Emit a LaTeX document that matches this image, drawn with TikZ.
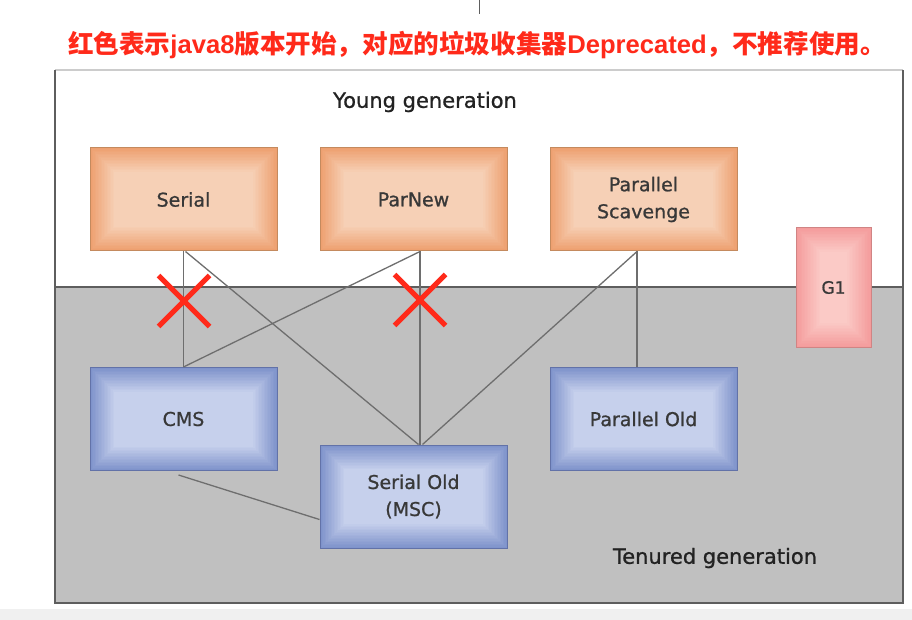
\documentclass[tikz,border=0pt]{standalone}
\usepackage{fontspec}
\setmainfont{DejaVu Sans}
\newfontfamily\lbl{DejaVu Sans}[FakeBold=0.9]
\newfontfamily\cjk{Noto Sans CJK SC}
\newfontfamily\arialfont{Liberation Sans}
\usetikzlibrary{shapes.misc}
\definecolor{oedge}{HTML}{EEA070}
\definecolor{ocen}{HTML}{F6D0B6}
\definecolor{oborder}{HTML}{C48A5E}
\definecolor{bedge}{HTML}{7F93CB}
\definecolor{bcen}{HTML}{C6D0EC}
\definecolor{bborder}{HTML}{6272A8}
\definecolor{pedge}{HTML}{F49C9C}
\definecolor{pcen}{HTML}{FBCAC6}
\definecolor{pborder}{HTML}{D08484}
\definecolor{tgray}{HTML}{C0C0C0}
\definecolor{framec}{HTML}{5E5E5E}
\definecolor{topc}{HTML}{CCCCCC}
\definecolor{linec}{HTML}{6E6E6E}
\definecolor{labelc}{HTML}{383838}
\definecolor{titlec}{HTML}{222222}
\definecolor{xred}{HTML}{FF2A1A}
\definecolor{stripc}{HTML}{F0F0F0}
\newcommand{\gradfill}[2]{%
  \foreach \i [evaluate=\i as \p using int(\i*100/16)] in {1,...,16}{%
    \fill[#2!\p!#1] ([shift={({\i*1.5pt},{-\i*1.5pt})}]path picture bounding box.north west)
      rectangle ([shift={({-\i*1.5pt},{\i*1.5pt})}]path picture bounding box.south east);
  }}
\tikzset{
  gbox/.style={minimum width=187pt, minimum height=103pt, inner sep=0pt, align=center,
    font=\lbl\fontsize{19}{27}\selectfont, text=labelc, line width=1pt},
  obox/.style={gbox, fill=oedge, draw=oborder, path picture={\gradfill{oedge}{ocen}}},
  bbox/.style={gbox, fill=bedge, draw=bborder, path picture={\gradfill{bedge}{bcen}}},
  pbox/.style={gbox, minimum width=75pt, minimum height=119pt, fill=pedge, draw=pborder,
    path picture={\gradfill{pedge}{pcen}}, font=\lbl\fontsize{17}{20}\selectfont, text=labelc},
  conn/.style={draw=linec, line width=1.3pt},
  xmark/.style={cross out, draw=xred, line width=5pt, minimum size=46pt, inner sep=0pt},
  gen/.style={font=\lbl\fontsize{21}{24}\selectfont, text=titlec}
}
\begin{document}
\begin{tikzpicture}[x=1pt,y=-1pt]
\useasboundingbox (0,0) rectangle (912,620);
\fill[white] (0,0) rectangle (912,620);
\fill[stripc] (0,609) rectangle (912,620);
\draw[framec, line width=1pt] (479,0) -- (479,14);
% title
\node[text=xred, font=\fontsize{25.6}{30}\selectfont] (title) at (477,45)
  {\cjk\bfseries 红色表示{\arialfont\bfseries java8}版本开始，对应的垃圾收集器{\arialfont\bfseries Deprecated}，不推荐使用。};
% frame
\fill[white] (55,70) rectangle (903,287);
\fill[tgray] (55,287) rectangle (903,603);
\draw[framec, line width=2pt] (55,287) -- (903,287);
\draw[topc, line width=1.5pt] (55,70) -- (903,70);
\draw[framec, line width=2pt] (55,70) -- (55,603) -- (903,603) -- (903,70);
% generation labels
\node[gen] (young) at (425,102) {Young generation};
\node[gen] (tenured) at (715,558) {Tenured generation};
% boxes
\node[obox] (serial) at (183.5,199.5) {Serial};
\node[obox] (parnew) at (413.5,199.5) {ParNew};
\node[obox] (pscav) at (643.5,199.5) {Parallel\\Scavenge};
\node[pbox] (g1) at (833.5,287.5) {G1};
\node[bbox] (cms) at (183.5,419) {CMS};
\node[bbox] (serold) at (413.5,496.5) {Serial Old\\(MSC)};
\node[bbox] (parold) at (643.5,419) {Parallel Old};
% connectors
\draw[conn] (serial.south) -- (cms.north);
\draw[conn] ([xshift=2pt]serial.south) -- ([xshift=5pt]serold.north);
\draw[conn] ([xshift=6.5pt]parnew.south) -- (cms.north);
\draw[conn] ([xshift=6.5pt]parnew.south) -- ([xshift=6.5pt]serold.north);
\draw[conn] ([xshift=-6.5pt]pscav.south) -- ([xshift=9pt]serold.north);
\draw[conn] ([xshift=-6.5pt]pscav.south) -- ([xshift=-6.5pt]parold.north);
\draw[conn] ([xshift=-5pt,yshift=-4pt]cms.south) -- ([yshift=-23pt]serold.west);
% red crosses
\node[xmark] (x1) at (184,301) {};
\node[xmark] (x2) at (420,300) {};
\end{tikzpicture}
\end{document}
